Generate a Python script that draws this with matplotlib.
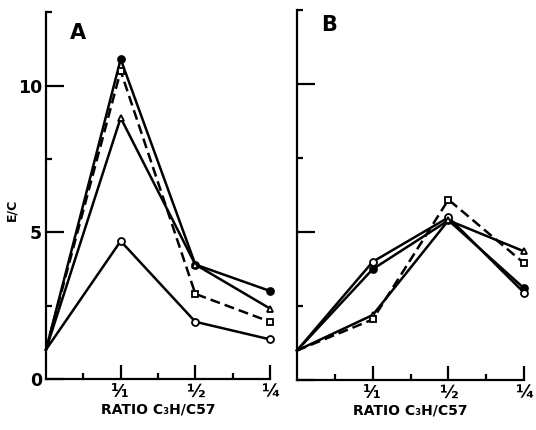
import matplotlib.pyplot as plt
import numpy as np

plt.rcParams['font.family'] = ['DejaVu Sans']
plt.rcParams['font.weight'] = 'bold'

ratio_pos = [0, 1, 2, 3]
tick_labels = ['¹⁄₁', '½', '¼']

# panel A
a_filled = [1.0, 10.9, 3.9, 3.0]
a_triangle = [1.0, 8.9, 3.9, 2.4]
a_square = [1.0, 10.5, 2.9, 1.95]
a_open = [1.0, 4.7, 1.95, 1.35]

# panel B
b_filled = [1.0, 3.75, 5.4, 3.1]
b_open = [1.0, 4.0, 5.5, 2.95]
b_triangle = [1.0, 2.2, 5.4, 4.35]
b_square = [1.0, 2.05, 6.1, 3.95]


def draw_series(ax, y, marker, face, dashed=False):
    ls = (0, (4, 2)) if dashed else '-'
    ax.plot(ratio_pos, y, color='k', lw=1.8, ls=ls, zorder=2, clip_on=False)
    ax.plot(ratio_pos[1:], y[1:], ls='none', marker=marker, ms=5,
            mfc=face, mec='k', mew=1.3, zorder=3, clip_on=False)


def style_axes(ax, show_labels):
    for s in ['top', 'right']:
        ax.spines[s].set_visible(False)
    for s in ['left', 'bottom']:
        ax.spines[s].set_linewidth(1.6)
    ax.set_xlim(0, 3)
    ax.set_ylim(0, 12.5)
    ax.set_xticks([1, 2, 3])
    ax.set_xticklabels(tick_labels, fontsize=13, fontweight='bold')
    ax.set_xticks([0.5, 1.5, 2.5], minor=True)
    ax.set_yticks([0, 5, 10])
    ax.set_yticks([2.5, 7.5, 12.5], minor=True)
    ax.tick_params(axis='x', which='major', direction='in', length=10, width=1.6, pad=3)
    ax.tick_params(axis='x', which='minor', direction='in', length=4, width=1.6)
    ax.tick_params(axis='y', which='major', direction='in', length=13, width=1.6, pad=3)
    ax.tick_params(axis='y', which='minor', direction='in', length=4, width=1.6)
    if show_labels:
        ax.set_yticklabels(['0', '5', '10'], fontsize=12.5, fontweight='bold')
    else:
        ax.set_yticklabels([])
    ax.set_xlabel('RATIO C₃H/C57', fontsize=10, fontweight='bold', labelpad=1)


fig = plt.figure(figsize=(5.36, 4.30), dpi=100)
ax1 = fig.add_axes([0.0858, 0.1186, 0.418, 0.853])
ax2 = fig.add_axes([0.554, 0.116, 0.424, 0.860])

draw_series(ax1, a_filled, 'o', 'k')
draw_series(ax1, a_triangle, '^', 'white')
draw_series(ax1, a_square, 's', 'white', dashed=True)
draw_series(ax1, a_open, 'o', 'white')
style_axes(ax1, True)
ax1.set_ylabel('E/C', fontsize=9, fontweight='bold')
ax1.yaxis.set_label_coords(-0.125, 0.46)
ax1.text(0.43, 11.8, 'A', fontsize=15, fontweight='bold', ha='center', va='center')

draw_series(ax2, b_filled, 'o', 'k')
draw_series(ax2, b_open, 'o', 'white')
draw_series(ax2, b_triangle, '^', 'white')
draw_series(ax2, b_square, 's', 'white', dashed=True)
style_axes(ax2, False)
ax2.text(0.43, 12.0, 'B', fontsize=15, fontweight='bold', ha='center', va='center')

fig.savefig('out.png', dpi=100)
